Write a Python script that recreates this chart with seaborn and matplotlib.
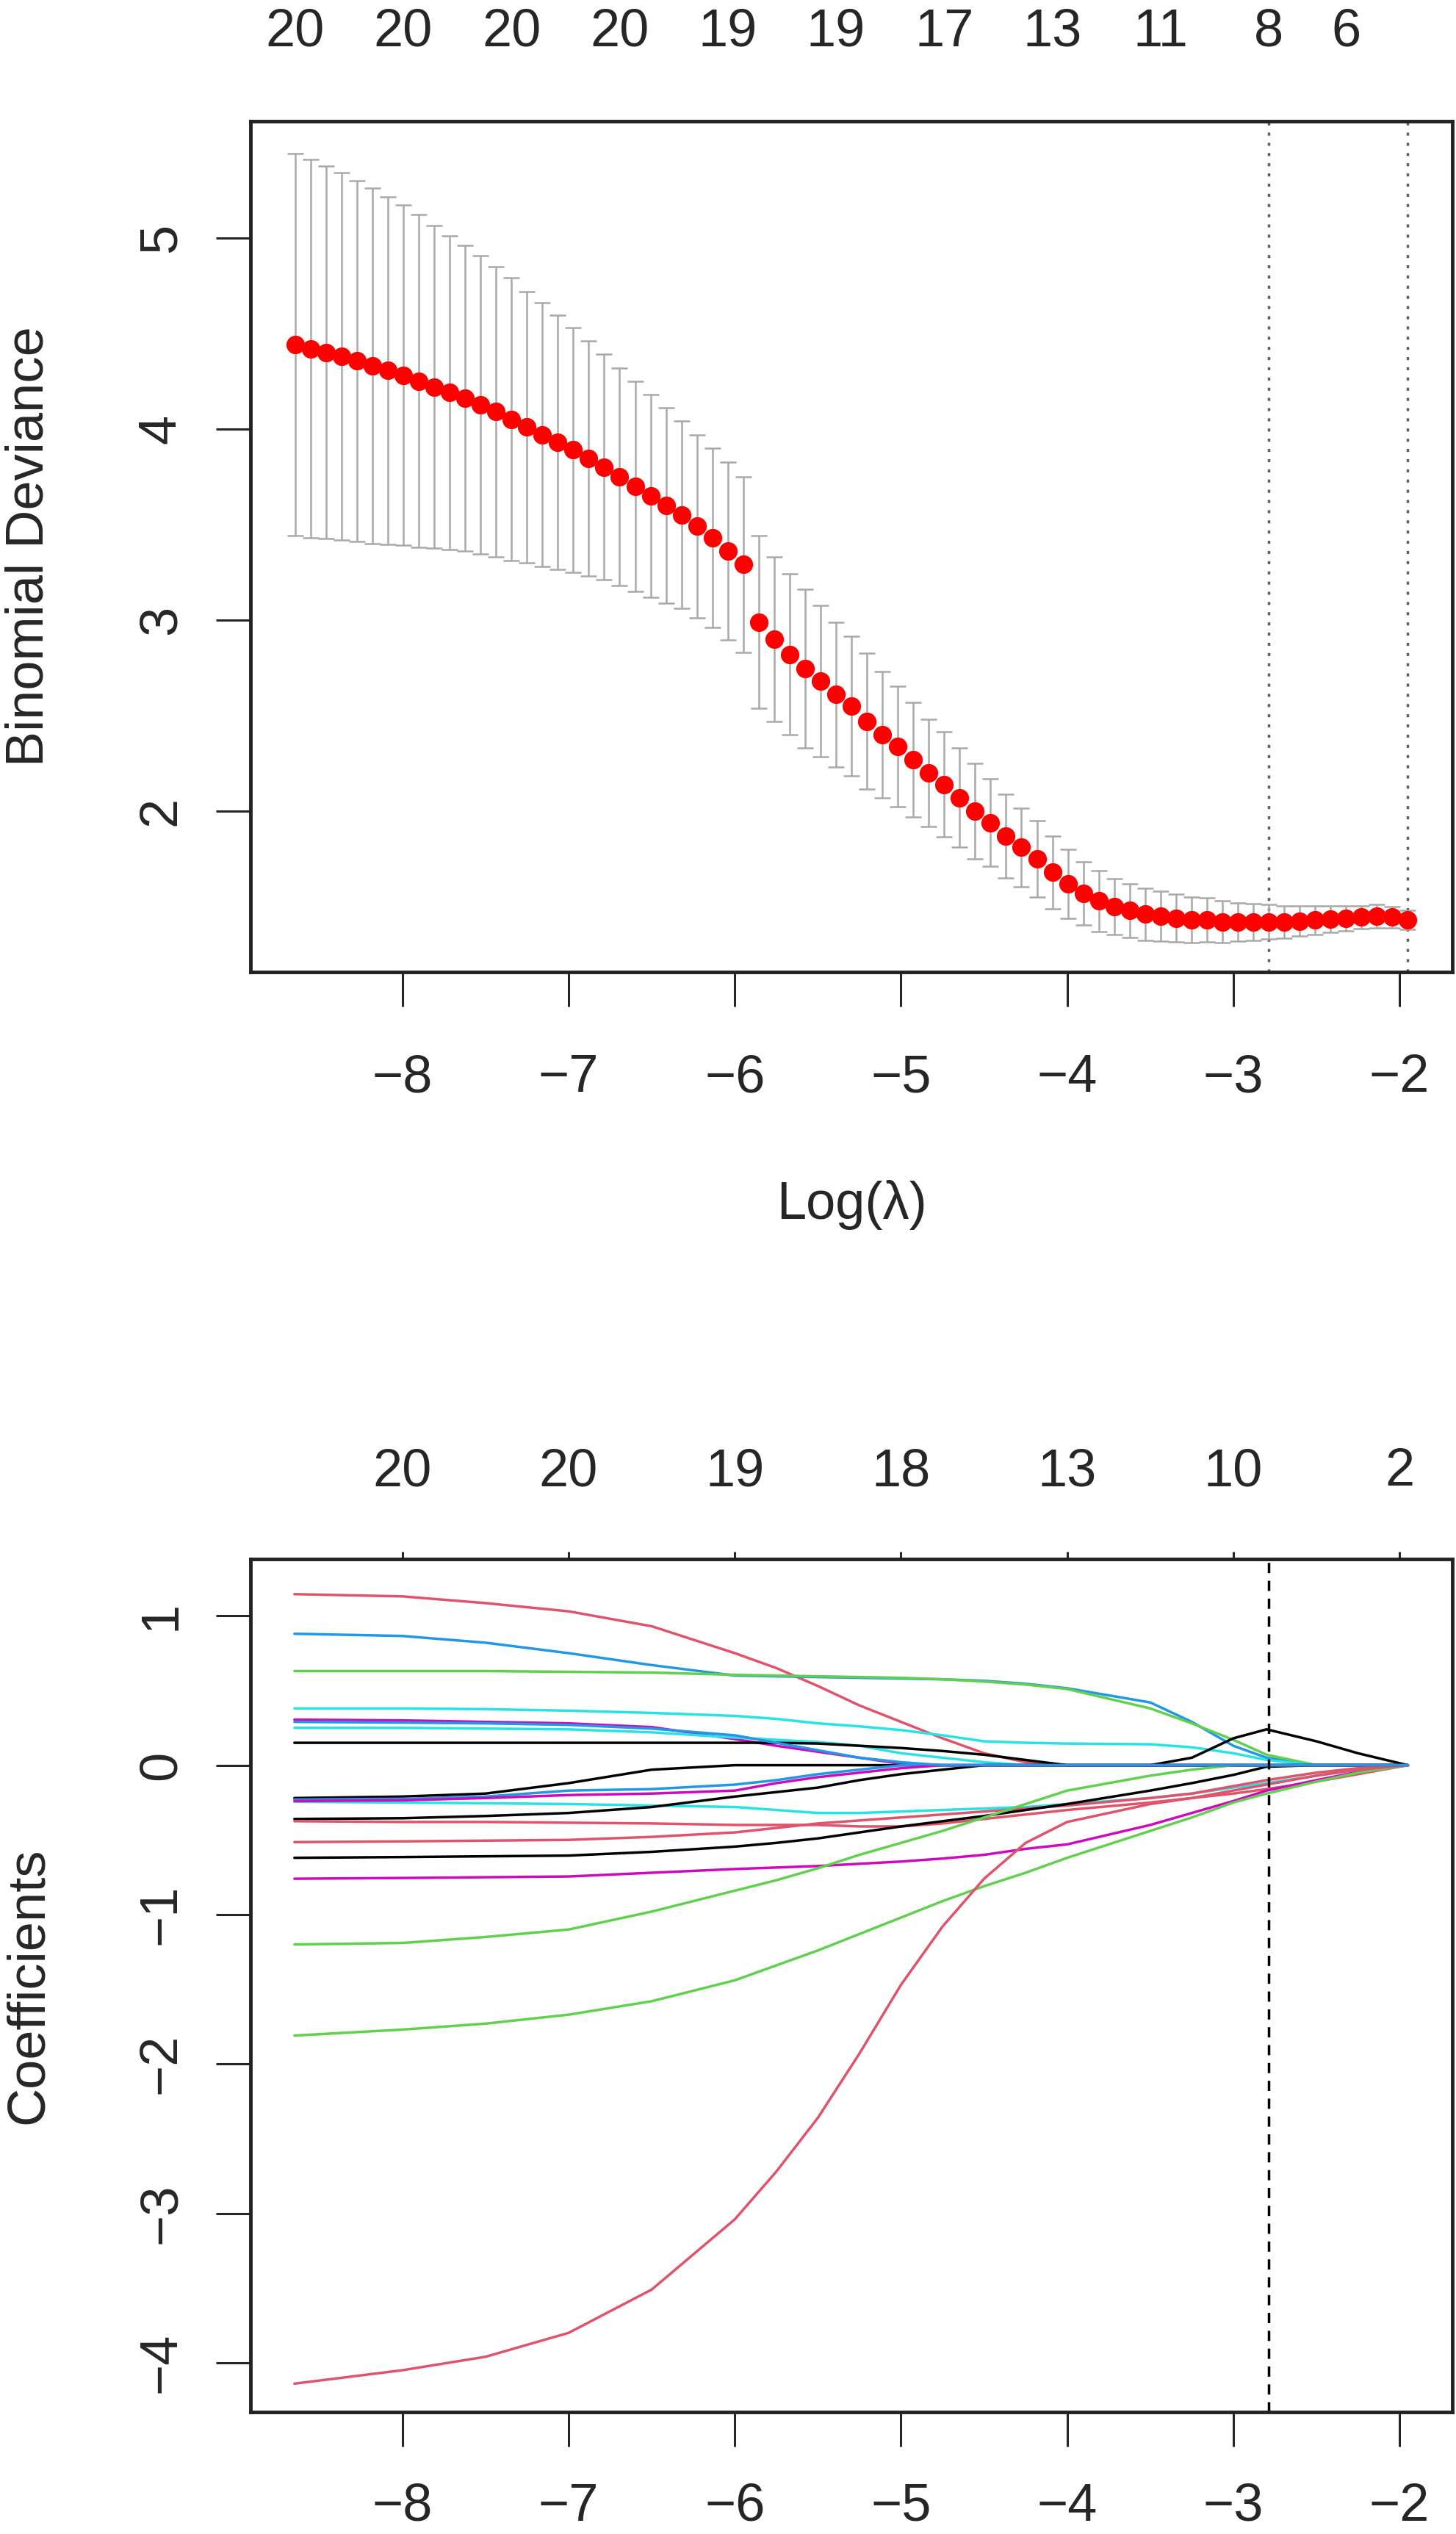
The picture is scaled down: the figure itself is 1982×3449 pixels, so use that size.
import numpy as np
import pandas as pd
import seaborn as sns
import matplotlib.pyplot as plt

# ---- cross-validation curve (top panel) ----
loglam = [-8.646, -8.553, -8.460, -8.367, -8.274, -8.181, -8.088, -7.995, -7.902, -7.809,
          -7.716, -7.623, -7.530, -7.437, -7.344, -7.251, -7.158, -7.065, -6.972, -6.879,
          -6.786, -6.693, -6.600, -6.507, -6.414, -6.321, -6.228, -6.135, -6.042, -5.949,
          -5.856, -5.763, -5.670, -5.577, -5.484, -5.391, -5.298, -5.205, -5.112, -5.019,
          -4.926, -4.833, -4.740, -4.647, -4.554, -4.461, -4.368, -4.275, -4.182, -4.089,
          -3.996, -3.903, -3.810, -3.717, -3.624, -3.531, -3.438, -3.345, -3.252, -3.159,
          -3.066, -2.973, -2.880, -2.787, -2.694, -2.601, -2.508, -2.415, -2.322, -2.229,
          -2.136, -2.043, -1.950]
cvm = [4.44, 4.42, 4.40, 4.38, 4.355, 4.33, 4.305, 4.28, 4.25, 4.22,
       4.19, 4.16, 4.125, 4.09, 4.05, 4.01, 3.97, 3.93, 3.89, 3.845,
       3.80, 3.75, 3.70, 3.65, 3.60, 3.55, 3.49, 3.43, 3.36, 3.29,
       2.99, 2.90, 2.82, 2.745, 2.68, 2.61, 2.55, 2.47, 2.40, 2.34,
       2.27, 2.20, 2.14, 2.07, 2.00, 1.94, 1.87, 1.81, 1.75, 1.68,
       1.62, 1.57, 1.53, 1.50, 1.48, 1.46, 1.45, 1.44, 1.43, 1.43,
       1.42, 1.42, 1.42, 1.42, 1.42, 1.425, 1.43, 1.435, 1.44, 1.445,
       1.45, 1.445, 1.43]
cvsd = [1.00, 0.99, 0.975, 0.96, 0.945, 0.93, 0.91, 0.89, 0.87, 0.845,
        0.82, 0.80, 0.78, 0.76, 0.74, 0.71, 0.69, 0.665, 0.64, 0.615,
        0.59, 0.57, 0.55, 0.53, 0.51, 0.49, 0.48, 0.47, 0.465, 0.46,
        0.45, 0.43, 0.42, 0.415, 0.395, 0.38, 0.365, 0.355, 0.33, 0.315,
        0.30, 0.28, 0.275, 0.26, 0.25, 0.23, 0.22, 0.205, 0.20, 0.19,
        0.18, 0.165, 0.16, 0.145, 0.14, 0.135, 0.13, 0.125, 0.12, 0.115,
        0.11, 0.10, 0.095, 0.09, 0.085, 0.08, 0.075, 0.07, 0.065, 0.06,
        0.06, 0.055, 0.05]
nz_idx = [0, 7, 14, 21, 28, 35, 42, 49, 56, 63, 68]
nz_labels = ['20', '20', '20', '20', '19', '19', '17', '13', '11', '8', '6']
idx_1se = 63
idx_min = 72

# ---- coefficient paths (bottom panel) ----
grid = [-8.65, -8.0, -7.5, -7.0, -6.5, -6.0, -5.75, -5.5, -5.25, -5.0, -4.75,
        -4.5, -4.25, -4.0, -3.5, -3.25, -3.0, -2.8, -2.5, -2.25, -1.95]
v1 = [1.145, 1.13, 1.085, 1.03, 0.93, 0.75, 0.65, 0.53, 0.40, 0.29, 0.18, 0.08, 0.02, 0, 0, 0, 0, 0, 0, 0, 0]
v2 = [0.88, 0.865, 0.82, 0.75, 0.67, 0.60, 0.595, 0.59, 0.585, 0.58, 0.575, 0.565, 0.545, 0.515, 0.42, 0.29, 0.13, 0.05, 0, 0, 0]
v3 = [0.63, 0.63, 0.63, 0.625, 0.62, 0.605, 0.60, 0.595, 0.59, 0.585, 0.575, 0.56, 0.54, 0.51, 0.38, 0.28, 0.17, 0.07, 0, 0, 0]
v4 = [0.38, 0.38, 0.375, 0.365, 0.35, 0.33, 0.31, 0.28, 0.26, 0.235, 0.20, 0.16, 0.15, 0.145, 0.14, 0.12, 0.08, 0.035, 0, 0, 0]
v5 = [0.305, 0.30, 0.29, 0.28, 0.255, 0.175, 0.13, 0.09, 0.05, 0.01, 0, 0, 0, 0, 0, 0, 0, 0, 0, 0, 0]
v6 = [0.25, 0.25, 0.245, 0.24, 0.22, 0.185, 0.17, 0.155, 0.13, 0.08, 0.05, 0.02, 0, 0, 0, 0, 0, 0, 0, 0, 0]
v7 = [0.15, 0.15, 0.15, 0.15, 0.15, 0.15, 0.15, 0.145, 0.13, 0.115, 0.095, 0.07, 0.035, 0, 0, 0, 0, 0, 0, 0, 0]
v8 = [-0.22, -0.21, -0.19, -0.12, -0.03, 0, 0, 0, 0, 0, 0, 0, 0, 0, 0, 0.05, 0.18, 0.24, 0.16, 0.08, 0]
v9 = [-0.23, -0.225, -0.21, -0.17, -0.16, -0.13, -0.10, -0.06, -0.03, 0, 0, 0, 0, 0, 0, 0, 0, 0, 0, 0, 0]
v10 = [-0.245, -0.25, -0.255, -0.26, -0.27, -0.28, -0.30, -0.32, -0.32, -0.31, -0.30, -0.29, -0.28, -0.26, -0.22, -0.19, -0.15, -0.12, -0.07, -0.03, 0]
v11 = [-0.36, -0.355, -0.34, -0.32, -0.28, -0.21, -0.18, -0.15, -0.10, -0.06, -0.03, 0, 0, 0, 0, 0, 0, 0, 0, 0, 0]
v12 = [-0.375, -0.38, -0.38, -0.385, -0.39, -0.40, -0.40, -0.40, -0.41, -0.41, -0.39, -0.36, -0.33, -0.30, -0.25, -0.22, -0.19, -0.16, -0.11, -0.06, 0]
v13 = [-0.515, -0.51, -0.505, -0.50, -0.48, -0.45, -0.42, -0.39, -0.37, -0.35, -0.33, -0.31, -0.29, -0.27, -0.22, -0.19, -0.14, -0.10, -0.05, -0.02, 0]
v14 = [-0.62, -0.615, -0.61, -0.605, -0.58, -0.545, -0.52, -0.49, -0.45, -0.41, -0.375, -0.34, -0.30, -0.26, -0.17, -0.12, -0.065, -0.01, 0, 0, 0]
v15 = [-0.76, -0.755, -0.75, -0.745, -0.72, -0.695, -0.685, -0.675, -0.66, -0.645, -0.625, -0.60, -0.56, -0.53, -0.40, -0.32, -0.24, -0.17, -0.10, -0.045, 0]
v16 = [-1.20, -1.19, -1.15, -1.10, -0.98, -0.84, -0.77, -0.69, -0.60, -0.52, -0.44, -0.35, -0.26, -0.17, -0.07, -0.03, 0, 0, 0, 0, 0]
v17 = [-1.81, -1.77, -1.73, -1.67, -1.58, -1.44, -1.34, -1.24, -1.13, -1.02, -0.91, -0.81, -0.72, -0.62, -0.44, -0.35, -0.25, -0.19, -0.11, -0.05, 0]
v18 = [-4.14, -4.05, -3.96, -3.80, -3.51, -3.04, -2.72, -2.36, -1.93, -1.47, -1.08, -0.76, -0.52, -0.38, -0.26, -0.22, -0.17, -0.13, -0.07, -0.03, 0]
v19 = [-0.24, -0.235, -0.22, -0.20, -0.19, -0.17, -0.12, -0.08, -0.05, -0.02, 0, 0, 0, 0, 0, 0, 0, 0, 0, 0, 0]
v20 = [0.29, 0.285, 0.28, 0.27, 0.245, 0.20, 0.15, 0.10, 0.05, 0.02, 0, 0, 0, 0, 0, 0, 0, 0, 0, 0, 0]
paths = [v1, v2, v3, v4, v5, v6, v7, v8, v9, v10, v11, v12, v13, v14, v15, v16, v17, v18, v19, v20]
path_cols = ['#DF536B', '#2297E6', '#61D04F', '#28E2E5', '#CD0BBC', '#28E2E5', '#000000',
             '#000000', '#2297E6', '#28E2E5', '#000000', '#DF536B', '#DF536B', '#000000',
             '#CD0BBC', '#61D04F', '#61D04F', '#DF536B', '#CD0BBC', '#2297E6']
df_top = ['20', '20', '19', '18', '13', '10', '2']
xt = [-8, -7, -6, -5, -4, -3, -2]

sns.set_style('ticks')
plt.rcParams['font.family'] = ['Liberation Sans', 'DejaVu Sans']
FS = 52
BOX = '#222222'

fig = plt.figure(figsize=(19.83, 34.49), dpi=100)
ax1 = fig.add_axes([0.1720, 0.6164, 0.8250, 0.33575])
ax2 = fig.add_axes([0.1720, 0.04813, 0.8250, 0.33662])

# top: cv curve with error bars
ax1.errorbar(loglam, cvm, yerr=cvsd, fmt='none', ecolor='darkgrey',
             elinewidth=1.8, capsize=8, capthick=1.8, zorder=2)
sns.scatterplot(x=loglam, y=cvm, color='red', s=330, linewidth=0, ax=ax1, zorder=3)
for i in [idx_1se, idx_min]:
    ax1.axvline(loglam[i], color='#606060', lw=2.5, ls=(0, (1.2, 2.8)), zorder=1)
ax1.set_xlim(-8.914, -1.682)
ax1.set_ylim(1.158, 5.61)
ax1.set_xticks(xt)
ax1.set_yticks([2, 3, 4, 5])
ax1.set_xlabel('Log(λ)', fontsize=FS)
ax1.xaxis.set_label_coords(0.5, -0.2444)
ax1.set_ylabel('Binomial Deviance', fontsize=FS)
ax1.yaxis.set_label_coords(-0.1638, 0.5)
ax1.tick_params(axis='x', direction='out', length=34, width=2.2, labelsize=FS, pad=46)
ax1.tick_params(axis='y', direction='out', length=34, width=2.2, labelsize=FS, pad=29,
                labelrotation=90)
for lab in ax1.get_yticklabels():
    lab.set_va('center')
sec1 = ax1.secondary_xaxis('top')
sec1.set_xticks([loglam[i] for i in nz_idx], labels=nz_labels)
sec1.tick_params(length=0, labelsize=FS, pad=63)
sec1.spines['top'].set_visible(False)

# bottom: coefficient paths
rows = []
for k, vals in enumerate(paths):
    for x, v in zip(grid, vals):
        rows.append({'loglam': x, 'coef': v, 'var': 'V%d' % (k + 1)})
df = pd.DataFrame(rows)
pal = {'V%d' % (k + 1): c for k, c in enumerate(path_cols)}
sns.lineplot(data=df, x='loglam', y='coef', hue='var', palette=pal, estimator=None,
             linewidth=2.5, legend=False, ax=ax2)
ax2.axvline(loglam[idx_1se], color='black', lw=2.5, ls=(0, (4, 3)))
ax2.set_xlim(-8.914, -1.682)
ax2.set_ylim(-4.33, 1.38)
ax2.set_xticks(xt)
ax2.set_yticks([-4, -3, -2, -1, 0, 1])
ax2.set_xlabel('')
ax2.set_ylabel('Coefficients', fontsize=FS)
ax2.yaxis.set_label_coords(-0.1638, 0.5)
# bottom labels sit close to the lower edge of the image
ax2.tick_params(axis='x', direction='out', length=34, width=2.2, labelsize=FS, pad=35)
ax2.tick_params(axis='y', direction='out', length=34, width=2.2, labelsize=FS, pad=29,
                labelrotation=90)
for lab in ax2.get_yticklabels():
    lab.set_va('center')
sec2 = ax2.secondary_xaxis('top')
sec2.set_xticks(xt, labels=df_top)
sec2.tick_params(direction='out', length=7, width=2.2, labelsize=FS, pad=54)
sec2.spines['top'].set_visible(False)

for ax in (ax1, ax2):
    for sp in ax.spines.values():
        sp.set_linewidth(3.5)
        sp.set_color(BOX)
        sp.set_visible(True)

fig.savefig('out.png', dpi=100, facecolor='white')
